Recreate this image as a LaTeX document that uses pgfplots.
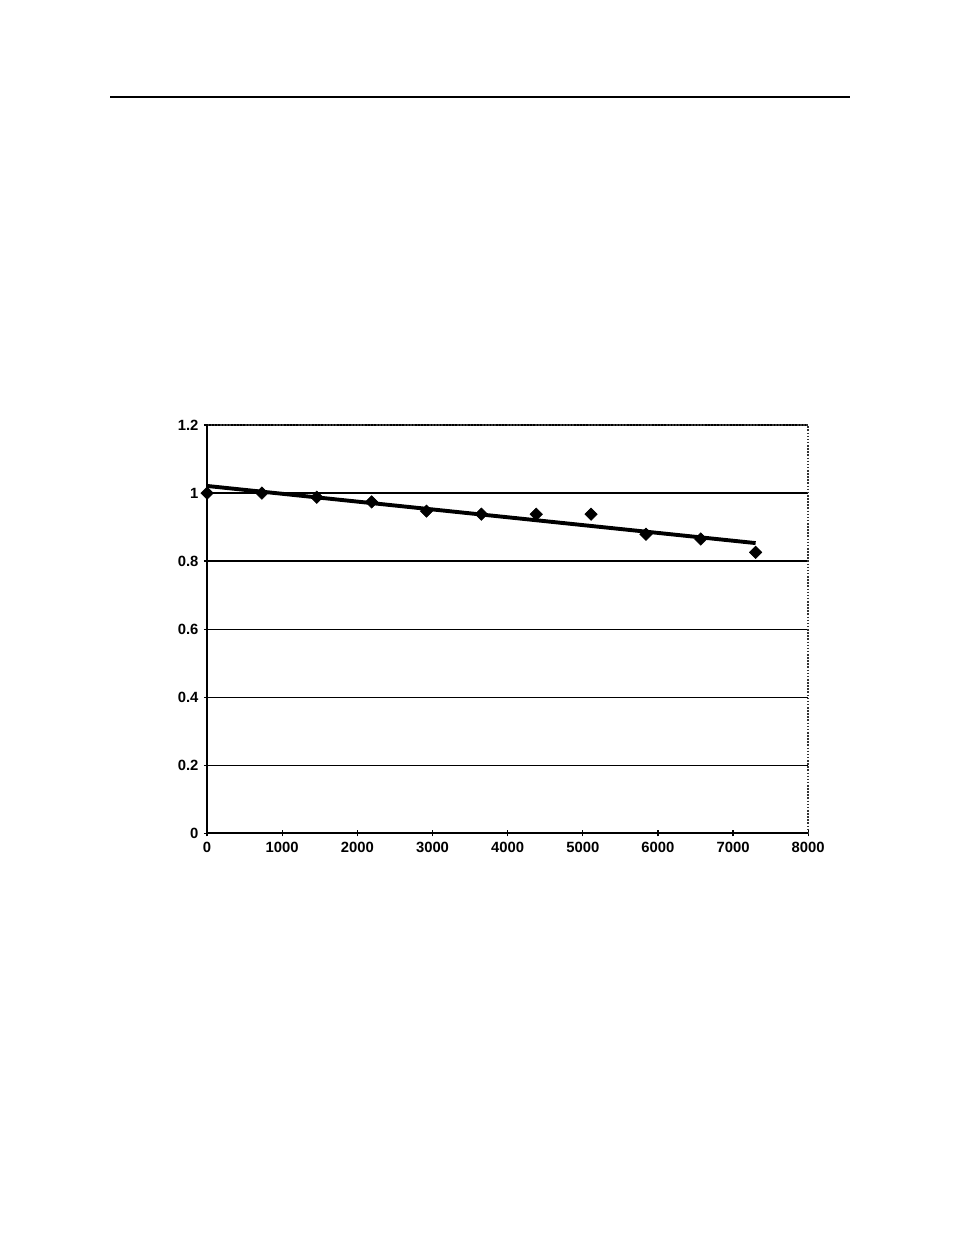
\documentclass[border=0pt]{standalone}
\usepackage{fontspec}
\setmainfont{Liberation Sans}
\usepackage{pgfplots}
\pgfplotsset{compat=1.18}
\begin{document}
\begin{tikzpicture}[x=1pt,y=1pt]
\path[fill=white] (0,0) rectangle (612,-792);
\useasboundingbox (0,0) rectangle (612,-792);
\draw[line width=1.1pt] (70.6,-62.2) -- (545.2,-62.2);
\begin{axis}[
  at={(132.8pt,-534.3pt)}, anchor=south west,
  scale only axis, width=385.5pt, height=261.7pt,
  xmin=0, xmax=8000, ymin=0, ymax=1.2,
  xtick={0,1000,...,8000}, ytick={0,0.2,...,1.2},
  yticklabels={0,0.2,0.4,0.6,0.8,1,1.2},
  xtick pos=bottom, ytick pos=left,
  scaled x ticks=false,
  xticklabel style={/pgf/number format/1000 sep={}},
  /pgf/number format/assume math mode=true,
  ticklabel style={font=\bfseries\fontsize{9.5}{11}\selectfont},
  tick align=center, major tick length=4pt,
  tick style={black, line width=0.8pt},
  ymajorgrids, grid style={black, line width=0.8pt},
  axis line style={black!80, densely dotted, line width=1pt},
  clip=false,
]
\addplot[only marks, mark=square*, mark size=2.8pt, mark options={rotate=45}, black] coordinates {
(0,1.0) (730,1.0) (1460,0.988) (2190,0.974) (2920,0.947) (3650,0.938)
(4380,0.938) (5110,0.938) (5840,0.879) (6570,0.865) (7300,0.826)};
\addplot[black, line width=2.5pt, no marks] coordinates {(0,1.021) (7300,0.853)};
\draw[black, line width=1.2pt] (rel axis cs:0,1) -- (rel axis cs:0,0) -- (rel axis cs:1,0);
\end{axis}
\end{tikzpicture}
\end{document}
